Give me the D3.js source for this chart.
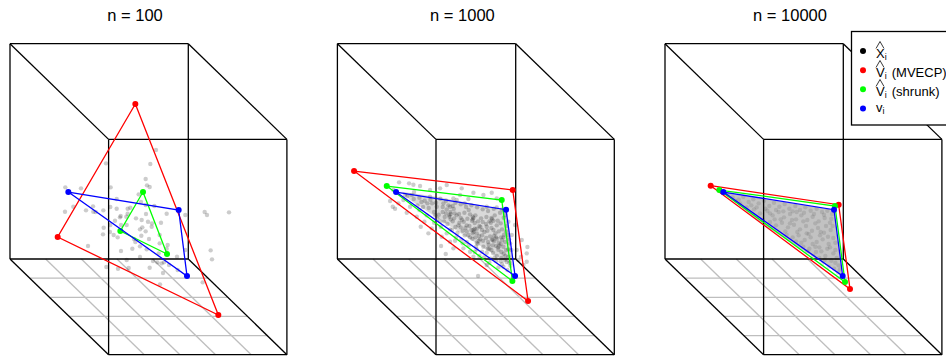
<!DOCTYPE html>
<html>
<head>
  <title>Simplex estimates by sample size</title>
  <script src="https://d3js.org/d3.v7.min.js"></script>
  <style>
    html, body { margin: 0; background: #fff; }
    svg { display: block; }
    text { font-family: "Liberation Sans", sans-serif; fill: #000; }
  </style>
</head>
<body>
<div id="chart"></div>
<script>
  var titles = ["n = 100", "n = 1000", "n = 10000"];

  // triangle corners, each panel in its own plot units
  var mvecp100 = [[406,222],[173,621],[655,855]];
  var shrunk100 = [[429,486],[361,603],[501,672]];
  var truth100 = [[205,486],[536,540],[561,738]];
  var mvecp1000 = [[72,63],[548,120],[594,453]];
  var shrunk1000 = [[170,108],[515,150],[547,393]];
  var truth1000 = [[198,126],[528,179],[555,378]];
  var mvecp10000 = [[62,47],[446,104],[480,357]];
  var shrunk10000 = [[88,60],[435,108],[465,336]];
  var truth10000 = [[100,66],[432,119],[458,318]];

  var cloud100 = [[468,360],[318,400],[451,402],[437,447],[441,466],[449,471],[196,472],[243,475],[332,472],
    [350,507],[416,493],[423,516],[437,525],[463,528],[279,529],[220,530],[331,531],[350,536],[383,536],[391,533],
    [310,541],[258,541],[195,545],[280,545],[287,546],[500,551],[556,555],[614,546],[621,555],[687,547],[438,552],
    [362,558],[360,562],[383,551],[379,560],[345,572],[425,570],[444,575],[483,578],[456,580],[408,565],[363,585],
    [380,585],[331,585],[311,593],[427,592],[455,590],[420,598],[437,604],[330,606],[309,613],[341,615],[353,622],
    [424,617],[479,615],[402,627],[406,636],[447,627],[479,640],[503,645],[264,648],[632,661],[363,663],[397,656],
    [420,649],[440,658],[500,656],[476,670],[556,660],[420,681],[531,680],[380,690],[459,693],[472,697],[485,700],
    [492,697],[636,688],[319,711],[354,716],[386,714],[449,713],[489,729],[533,720],[480,763],[608,757],[507,705]];

  var cloud1000 = [[207,97],[237,100],[250,104],[270,108],[190,120],[350,105],[395,115],[415,147],[430,128],[460,135],
    [485,128],[180,153],[188,170],[195,176],[230,188],[272,230],[295,250],[333,288],[347,312],[370,295],[444,378],
    [575,270],[592,291],[590,310],[590,335],[573,320],[580,345],[560,300],[565,330],[390,135],[370,145],[300,120],
    [330,115],[245,135],[220,150],[205,160],[240,170],[260,200],[283,215],[305,235],[335,260],[360,275],[400,295],
    [430,320],[470,345],[520,350],[500,145],[535,215],[545,255],[555,225],[535,320],
    [232,138],[251,147],[268,143],[284,152],[262,166],[279,171],[301,149],[318,158],[296,174],[312,186],[331,146],
    [348,152],[338,171],[355,166],[326,194],[344,201],[361,186],[376,158],[392,163],[371,177],[387,192],[408,171],
    [424,166],[403,188],[420,193],[441,172],[458,178],[436,196],[453,205],[474,183],[491,176],[510,188],[469,201],
    [486,207],[503,212],[521,203],[352,222],[368,214],[385,226],[401,215],[418,228],[434,219],[451,231],[468,222],
    [484,234],[500,226],[516,238],[366,240],[382,249],[398,242],[415,255],[431,245],[447,258],[463,246],[480,259],
    [496,250],[513,262],[528,244],[394,268],[410,276],[427,266],[443,281],[459,272],[476,284],[492,274],[508,287],
    [525,276],[537,268],[440,298],[456,305],[473,296],[489,309],[505,299],[521,311],[535,298],[482,326],[498,333],
    [514,324],[530,336],[541,347],[358,200],[362,192],[372,205],[392,204],[396,209],[412,206],[428,208],[444,214],
    [458,216],[478,214],[494,196],[512,220],[376,231],[392,232],[406,234],[424,240],[440,236],[456,240],[472,242],
    [490,240],[506,244],[522,254],[404,256],[420,262],[436,262],[450,268],[468,264],[486,268],[500,266],[516,270],
    [488,286],[498,288],[520,290],[470,308],[484,300],[514,306],[526,318],[338,186],[306,160],[274,156],[342,214],
    [322,206],[360,238],[378,262],[416,286],[434,306],[462,322],[516,342],[500,318],[460,290],[440,250],[410,226],
    [380,196],[350,178],[320,170],
    [362,208],[358,196],[428,200],[430,204],[426,212],[484,204],[490,212],[482,218],[360,170],[368,168],[430,240],
    [434,236],[428,250],[492,258],[498,262],[488,270],[440,278],[446,272],[438,290],[506,278],[512,282],[504,292],
    [416,180],[470,170],[500,172],[516,178],[404,160],[380,150],[340,160],[300,140],[252,126],[225,135],[268,180],
    [290,196],[312,218],[332,230],[350,250],[375,272],[398,280],[420,305],[448,318],[478,338],[505,352],[532,360],
    [544,300],[540,280],[534,255],[530,228],[526,195],[524,182],[470,230],[456,256],[474,276],[478,296],[494,322],
    [512,334],[448,228],[410,244],[388,218],[374,190],[348,190],[330,214],[316,196],[292,160],[520,262],[528,300],
    [524,330],[538,338]];

  var cloud10000 = [[112,74],[128,82],[146,88],[160,80],[176,96],[190,88],[206,100],[222,92],[238,108],[252,98],
    [268,110],[284,102],[298,116],[316,108],[330,120],[346,112],[362,122],[380,116],[396,126],[412,122],[426,132],
    [150,100],[170,112],[192,118],[210,130],[232,122],[248,136],[266,126],[282,142],[300,132],[318,148],[334,136],
    [352,150],[368,140],[386,154],[404,144],[420,158],[218,150],[240,156],[258,166],[276,158],[294,172],[312,164],
    [330,178],[348,168],[366,182],[384,174],[402,188],[422,180],[290,194],[308,202],[326,196],[344,210],[362,202],
    [380,216],[398,208],[416,222],[430,204],[340,230],[358,236],[376,230],[394,244],[412,236],[430,250],[370,258],
    [388,264],[406,258],[424,272],[440,264],[416,290],[432,296],[446,286],[444,308],[436,240],[300,160],[240,130],
    [200,112],[350,190],[390,196],[320,126],[280,124],
    [136,92],[184,106],[226,116],[258,120],[308,124],[342,128],[372,132],[402,134],[424,146],[272,148],[306,150],
    [340,154],[376,160],[408,168],[428,168],[254,148],[286,184],[322,186],[356,192],[392,186],[414,200],[436,218],
    [318,214],[334,218],[368,222],[388,232],[420,232],[352,244],[404,270],[378,246],[396,282],[436,278],[450,298]];

  // dense part of each cloud, too packed to pick out single points
  var core1000 = [[215,125],[320,140],[528,180],[548,345],[510,325],[400,255],[300,190],[240,150]];
  var core10000 = [[100,68],[432,119],[456,316],[430,298],[220,165]];

  var gridTicks = [0.2, 0.4, 0.6, 0.8];
  var legendLabels = ["X", "V", "V", "v"];
  var legendSuffix = ["", " (MVECP)", " (shrunk)", ""];
  var legendHats = [true, true, true, false];
  var colours = ["#000000", "#ff0000", "#00ff00", "#0000ff"];

  var panels = [
    {left: 10, xDomain: [30, 861], yDomain: [41, 974], cloud: cloud100, core: null, coreAlpha: 0, alpha: 0.2,
      mvecp: mvecp100, shrunk: shrunk100, truth: truth100},
    {left: 337.4, xDomain: [22, 853], yDomain: [-319, 614], cloud: cloud1000, core: core1000, coreAlpha: 0.15, alpha: 0.2,
      mvecp: mvecp1000, shrunk: shrunk1000, truth: truth1000},
    {left: 665, xDomain: [-75, 756], yDomain: [-379, 554], cloud: cloud10000, core: core10000, coreAlpha: 0.24, alpha: 0.1,
      mvecp: mvecp10000, shrunk: shrunk10000, truth: truth10000}
  ];

  var svg = d3.select("#chart").append("svg").attr("width", 946).attr("height", 356);

  var across = d3.scaleLinear().domain([0, 1]).range([0, 178.3]);
  var height = d3.scaleLinear().domain([0, 1]).range([259, 43.7]);
  var depthX = d3.scaleLinear().domain([0, 1]).range([0, 98.6]);
  var depthY = d3.scaleLinear().domain([0, 1]).range([0, 95.7]);

  panels.forEach(function(p, i) {
    var g = svg.append("g");
    var x = d3.scaleLinear().domain(p.xDomain).range([p.left, p.left + 277]);
    var y = d3.scaleLinear().domain(p.yDomain).range([43.7, 354.7]);
    var line = d3.line().x(function(d) { return x(d[0]); }).y(function(d) { return y(d[1]); });

    function corner(u, d, h) {
      return [p.left + across(u) + depthX(d), height(h) + depthY(d)];
    }
    function edge(a, b, colour, w) {
      g.append("line")
        .attr("x1", a[0]).attr("y1", a[1])
        .attr("x2", b[0]).attr("y2", b[1])
        .attr("stroke", colour).attr("stroke-width", w);
    }

    // floor grid
    gridTicks.forEach(function(t) {
      edge(corner(t, 0, 0), corner(t, 1, 0), "#bebebe", 1.3);
      edge(corner(0, t, 0), corner(1, t, 0), "#bebebe", 1.3);
    });

    // box
    [0, 1].forEach(function(a) {
      [0, 1].forEach(function(b) {
        edge(corner(a, b, 0), corner(a, b, 1), "#000", 1.3);
        edge(corner(0, a, b), corner(1, a, b), "#000", 1.3);
        edge(corner(a, 0, b), corner(a, 1, b), "#000", 1.3);
      });
    });

    if (p.core) {
      g.append("path")
        .attr("d", line(p.core) + "Z")
        .attr("fill", "#000")
        .attr("fill-opacity", p.coreAlpha);
    }

    g.selectAll("circle.x")
      .data(p.cloud)
      .enter().append("circle")
      .attr("class", "x")
      .attr("cx", function(d) { return x(d[0]); })
      .attr("cy", function(d) { return y(d[1]); })
      .attr("r", 2.2)
      .attr("fill", "#000")
      .attr("fill-opacity", p.alpha);

    [p.mvecp, p.shrunk, p.truth].forEach(function(tri, k) {
      var colour = colours[k + 1];
      g.append("path")
        .attr("d", line(tri) + "Z")
        .attr("fill", "none")
        .attr("stroke", colour)
        .attr("stroke-width", 1.3);
      g.selectAll("circle.c" + k)
        .data(tri)
        .enter().append("circle")
        .attr("class", "c" + k)
        .attr("cx", function(d) { return x(d[0]); })
        .attr("cy", function(d) { return y(d[1]); })
        .attr("r", 3)
        .attr("fill", colour);
    });

    svg.append("text")
      .attr("x", p.left + 125)
      .attr("y", 21)
      .attr("text-anchor", "middle")
      .attr("font-size", 16.5)
      .text(titles[i]);
  });

  // legend runs off the right edge, as in the original
  var legend = svg.append("g");
  legend.append("rect")
    .attr("x", 851.5).attr("y", 31.5)
    .attr("width", 110).attr("height", 93.5)
    .attr("fill", "#fff").attr("stroke", "#000").attr("stroke-width", 1.3);

  var legendY = d3.scaleLinear().domain([0, 3]).range([51, 108.5]);
  var baselines = [58, 77, 96, 112];

  legendLabels.forEach(function(label, i) {
    legend.append("circle")
      .attr("cx", 863).attr("cy", legendY(i))
      .attr("r", 3).attr("fill", colours[i]);
    if (legendHats[i]) {
      // plotmath style hat, taller than a text caret
      var top = baselines[i] - 16.5;
      legend.append("path")
        .attr("d", d3.line()([[876, top + 7], [880, top], [884, top + 7]]))
        .attr("fill", "none")
        .attr("stroke", "#222")
        .attr("stroke-width", 0.9);
    }
    var t = legend.append("text")
      .attr("x", 876).attr("y", baselines[i])
      .attr("font-size", 13);
    t.append("tspan").text(label);
    t.append("tspan").attr("font-size", 9).attr("dy", 2).text("i");
    if (legendSuffix[i]) {
      t.append("tspan").attr("dy", -2).attr("dx", 1.5).attr("font-size", 13).text(legendSuffix[i]);
    }
  });
</script>
</body>
</html>
